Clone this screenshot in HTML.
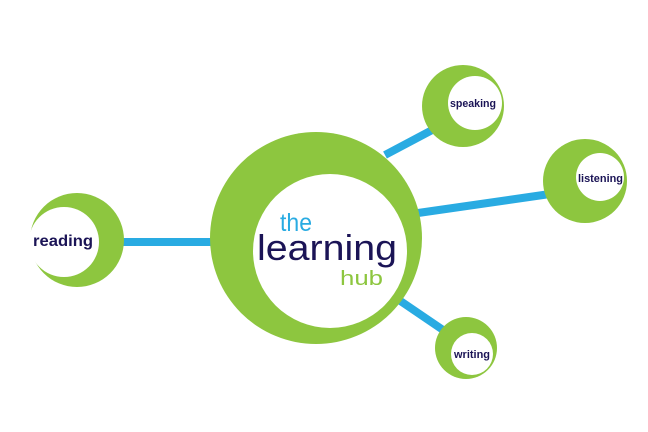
<!DOCTYPE html>
<html><head><style>html,body{margin:0;padding:0;background:#fff;width:648px;height:432px;overflow:hidden}</style></head>
<body>
<svg width="648" height="432" viewBox="0 0 648 432" xmlns="http://www.w3.org/2000/svg" font-family="Liberation Sans, sans-serif">
<g stroke="#29abe2" stroke-width="8">
<line x1="120" y1="242" x2="214" y2="242"/>
<line x1="385" y1="155" x2="436" y2="128"/>
<line x1="418" y1="213" x2="550" y2="194"/>
<line x1="396" y1="298" x2="446" y2="332"/>
</g>
<g fill="#8dc63f">
<circle cx="316" cy="238" r="106"/>
<circle cx="77" cy="240" r="47"/>
<circle cx="463" cy="106" r="41"/>
<circle cx="585" cy="181" r="42"/>
<circle cx="466" cy="348" r="31"/>
</g>
<g fill="#fff">
<circle cx="330" cy="251" r="77"/>
<circle cx="64" cy="242" r="35"/>
<circle cx="475" cy="103" r="27"/>
<circle cx="600" cy="177" r="24"/>
<circle cx="472" cy="354" r="21"/>
</g>
<text x="280" y="231" font-size="25" fill="#29abe2" textLength="32" lengthAdjust="spacingAndGlyphs">the</text>
<text x="257" y="260" font-size="36" fill="#1b1456" textLength="140" lengthAdjust="spacingAndGlyphs">learning</text>
<text x="340" y="285" font-size="20" fill="#8dc63f" textLength="43" lengthAdjust="spacingAndGlyphs">hub</text>
<g fill="#1b1456" font-weight="bold">
<text x="33" y="246" font-size="16" textLength="60" lengthAdjust="spacingAndGlyphs">reading</text>
<text x="450" y="107" font-size="11" textLength="46" lengthAdjust="spacingAndGlyphs">speaking</text>
<text x="578" y="182" font-size="11" textLength="45" lengthAdjust="spacingAndGlyphs">listening</text>
<text x="454" y="358" font-size="11" textLength="36" lengthAdjust="spacingAndGlyphs">writing</text>
</g>
</svg>
</body></html>
